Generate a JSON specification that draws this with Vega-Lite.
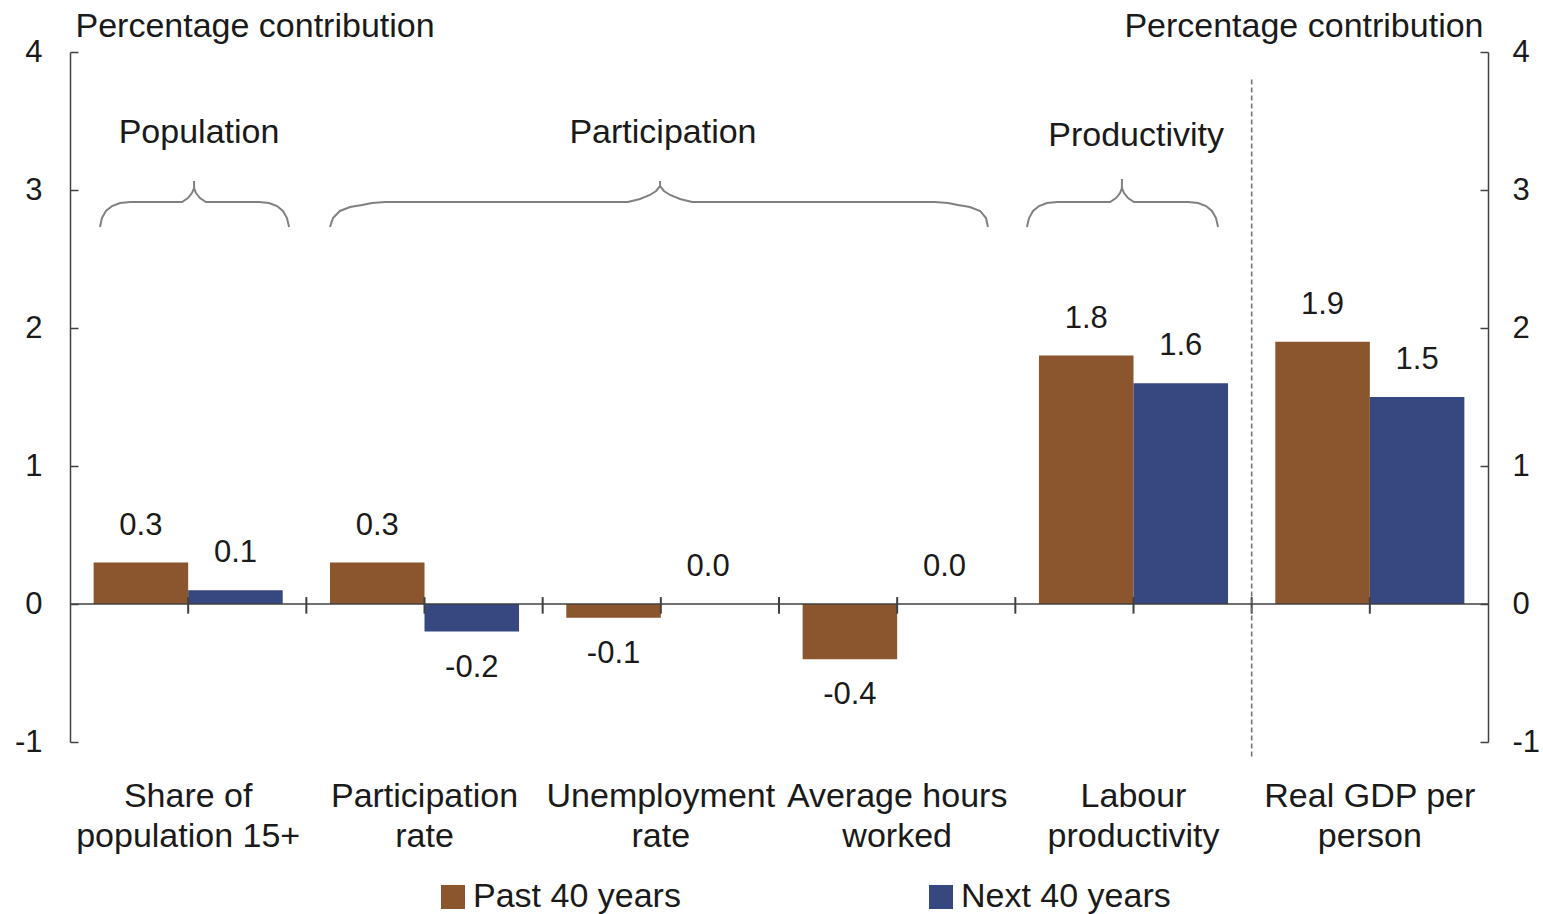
{
  "$schema": "https://vega.github.io/schema/vega-lite/v6.json",
  "width": 1418,
  "height": 690,
  "autosize": "none",
  "padding": {"left": 70, "top": 52, "right": 55, "bottom": 172},
  "background": "white",
  "config": {
    "font": "Liberation Sans",
    "view": {"stroke": null},
    "text": {"font": "Liberation Sans", "color": "#1a1a1a"}
  },
  "datasets": {
    "bars": [
      {"category": "Share of population 15+", "period": "Past 40 years", "value": 0.3},
      {"category": "Share of population 15+", "period": "Next 40 years", "value": 0.1},
      {"category": "Participation rate", "period": "Past 40 years", "value": 0.3},
      {"category": "Participation rate", "period": "Next 40 years", "value": -0.2},
      {"category": "Unemployment rate", "period": "Past 40 years", "value": -0.1},
      {"category": "Unemployment rate", "period": "Next 40 years", "value": 0.0},
      {"category": "Average hours worked", "period": "Past 40 years", "value": -0.4},
      {"category": "Average hours worked", "period": "Next 40 years", "value": 0.0},
      {"category": "Labour productivity", "period": "Past 40 years", "value": 1.8},
      {"category": "Labour productivity", "period": "Next 40 years", "value": 1.6},
      {"category": "Real GDP per person", "period": "Past 40 years", "value": 1.9},
      {"category": "Real GDP per person", "period": "Next 40 years", "value": 1.5}
    ],
    "ticks": [
      {"pos": 0.5}, {"pos": 1}, {"pos": 1.5}, {"pos": 2}, {"pos": 2.5}, {"pos": 3},
      {"pos": 3.5}, {"pos": 4}, {"pos": 4.5}, {"pos": 5}, {"pos": 5.5}
    ],
    "braces": [
      {"brace": "Population", "ord": 1, "bx": 0.127, "by": 2.732},
      {"brace": "Population", "ord": 2, "bx": 0.135, "by": 2.797},
      {"brace": "Population", "ord": 3, "bx": 0.152, "by": 2.848},
      {"brace": "Population", "ord": 4, "bx": 0.178, "by": 2.884},
      {"brace": "Population", "ord": 5, "bx": 0.212, "by": 2.906},
      {"brace": "Population", "ord": 6, "bx": 0.254, "by": 2.913},
      {"brace": "Population", "ord": 7, "bx": 0.474, "by": 2.913},
      {"brace": "Population", "ord": 8, "bx": 0.499, "by": 2.942},
      {"brace": "Population", "ord": 9, "bx": 0.516, "by": 2.978},
      {"brace": "Population", "ord": 10, "bx": 0.525, "by": 3.014},
      {"brace": "Population", "ord": 11, "bx": 0.525, "by": 3.065},
      {"brace": "Population", "ord": 12, "bx": 0.525, "by": 3.014},
      {"brace": "Population", "ord": 13, "bx": 0.533, "by": 2.978},
      {"brace": "Population", "ord": 14, "bx": 0.550, "by": 2.942},
      {"brace": "Population", "ord": 15, "bx": 0.575, "by": 2.913},
      {"brace": "Population", "ord": 16, "bx": 0.800, "by": 2.913},
      {"brace": "Population", "ord": 17, "bx": 0.842, "by": 2.906},
      {"brace": "Population", "ord": 18, "bx": 0.876, "by": 2.884},
      {"brace": "Population", "ord": 19, "bx": 0.901, "by": 2.848},
      {"brace": "Population", "ord": 20, "bx": 0.918, "by": 2.797},
      {"brace": "Population", "ord": 21, "bx": 0.927, "by": 2.732},
      {"brace": "Participation", "ord": 1, "bx": 1.100, "by": 2.732},
      {"brace": "Participation", "ord": 2, "bx": 1.113, "by": 2.797},
      {"brace": "Participation", "ord": 3, "bx": 1.142, "by": 2.848},
      {"brace": "Participation", "ord": 4, "bx": 1.185, "by": 2.877},
      {"brace": "Participation", "ord": 5, "bx": 1.236, "by": 2.891},
      {"brace": "Participation", "ord": 6, "bx": 1.278, "by": 2.906},
      {"brace": "Participation", "ord": 7, "bx": 1.333, "by": 2.913},
      {"brace": "Participation", "ord": 8, "bx": 2.361, "by": 2.913},
      {"brace": "Participation", "ord": 9, "bx": 2.412, "by": 2.935},
      {"brace": "Participation", "ord": 10, "bx": 2.454, "by": 2.964},
      {"brace": "Participation", "ord": 11, "bx": 2.480, "by": 2.993},
      {"brace": "Participation", "ord": 12, "bx": 2.497, "by": 3.029},
      {"brace": "Participation", "ord": 13, "bx": 2.497, "by": 3.065},
      {"brace": "Participation", "ord": 14, "bx": 2.497, "by": 3.029},
      {"brace": "Participation", "ord": 15, "bx": 2.513, "by": 2.993},
      {"brace": "Participation", "ord": 16, "bx": 2.539, "by": 2.964},
      {"brace": "Participation", "ord": 17, "bx": 2.581, "by": 2.935},
      {"brace": "Participation", "ord": 18, "bx": 2.632, "by": 2.913},
      {"brace": "Participation", "ord": 19, "bx": 3.660, "by": 2.913},
      {"brace": "Participation", "ord": 20, "bx": 3.715, "by": 2.906},
      {"brace": "Participation", "ord": 21, "bx": 3.757, "by": 2.891},
      {"brace": "Participation", "ord": 22, "bx": 3.808, "by": 2.877},
      {"brace": "Participation", "ord": 23, "bx": 3.851, "by": 2.848},
      {"brace": "Participation", "ord": 24, "bx": 3.876, "by": 2.797},
      {"brace": "Participation", "ord": 25, "bx": 3.884, "by": 2.732},
      {"brace": "Productivity", "ord": 1, "bx": 4.049, "by": 2.732},
      {"brace": "Productivity", "ord": 2, "bx": 4.058, "by": 2.797},
      {"brace": "Productivity", "ord": 3, "bx": 4.075, "by": 2.848},
      {"brace": "Productivity", "ord": 4, "bx": 4.100, "by": 2.884},
      {"brace": "Productivity", "ord": 5, "bx": 4.134, "by": 2.906},
      {"brace": "Productivity", "ord": 6, "bx": 4.176, "by": 2.913},
      {"brace": "Productivity", "ord": 7, "bx": 4.401, "by": 2.913},
      {"brace": "Productivity", "ord": 8, "bx": 4.426, "by": 2.942},
      {"brace": "Productivity", "ord": 9, "bx": 4.443, "by": 2.978},
      {"brace": "Productivity", "ord": 10, "bx": 4.451, "by": 3.014},
      {"brace": "Productivity", "ord": 11, "bx": 4.451, "by": 3.080},
      {"brace": "Productivity", "ord": 12, "bx": 4.451, "by": 3.014},
      {"brace": "Productivity", "ord": 13, "bx": 4.460, "by": 2.978},
      {"brace": "Productivity", "ord": 14, "bx": 4.477, "by": 2.942},
      {"brace": "Productivity", "ord": 15, "bx": 4.502, "by": 2.913},
      {"brace": "Productivity", "ord": 16, "bx": 4.731, "by": 2.913},
      {"brace": "Productivity", "ord": 17, "bx": 4.773, "by": 2.906},
      {"brace": "Productivity", "ord": 18, "bx": 4.807, "by": 2.884},
      {"brace": "Productivity", "ord": 19, "bx": 4.832, "by": 2.848},
      {"brace": "Productivity", "ord": 20, "bx": 4.849, "by": 2.797},
      {"brace": "Productivity", "ord": 21, "bx": 4.858, "by": 2.732}
    ],
    "braceLabels": [
      {"label": "Population", "lx": 0.546, "ly": 3.413},
      {"label": "Participation", "lx": 2.509, "ly": 3.413},
      {"label": "Productivity", "lx": 4.511, "ly": 3.391}
    ],
    "divider": [
      {"dx": 5, "top": 3.8, "bottom": -1.11}
    ]
  },
  "layer": [
    {
      "data": {"name": "bars"},
      "transform": [
        {"calculate": "replace(format(datum.value, '.1f'), '\u2212', '-')", "as": "label"}
      ],
      "encoding": {
        "x": {
          "field": "category",
          "type": "nominal",
          "sort": ["Share of population 15+", "Participation rate", "Unemployment rate", "Average hours worked", "Labour productivity", "Real GDP per person"],
          "scale": {"paddingInner": 0, "paddingOuter": 0},
          "axis": {
            "title": null,
            "domain": false,
            "ticks": false,
            "tickSize": 0,
            "labelAngle": 0,
            "labelFontSize": 34,
            "labelColor": "#1a1a1a",
            "labelBaseline": "alphabetic",
            "labelPadding": 64,
            "labelLineHeight": 40,
            "labelLimit": 400,
            "labelExpr": "datum.label == 'Share of population 15+' ? ['Share of', 'population 15+'] : datum.label == 'Participation rate' ? ['Participation', 'rate'] : datum.label == 'Unemployment rate' ? ['Unemployment', 'rate'] : datum.label == 'Average hours worked' ? ['Average hours', 'worked'] : datum.label == 'Labour productivity' ? ['Labour', 'productivity'] : ['Real GDP per', 'person']"
          }
        },
        "xOffset": {
          "field": "period",
          "type": "nominal",
          "sort": ["Past 40 years", "Next 40 years"],
          "scale": {"paddingInner": 0, "paddingOuter": 0.25}
        },
        "y": {
          "field": "value",
          "type": "quantitative",
          "title": "Percentage contribution",
          "scale": {"domain": [-1, 4], "nice": false, "zero": false},
          "axis": {
            "orient": "left",
            "values": [-1, 0, 1, 2, 3, 4],
            "labelExpr": "'' + datum.value",
            "grid": false,
            "domainColor": "#404040",
            "domainWidth": 1.5,
            "tickColor": "#404040",
            "tickWidth": 1.5,
            "tickSize": -8,
            "labelPadding": 36,
            "labelFontSize": 31,
            "labelColor": "#1a1a1a",
            "titleAngle": 0,
            "titleAlign": "left",
            "titleBaseline": "alphabetic",
            "titleX": 5,
            "titleY": -16,
            "titleFontSize": 34,
            "titleFontWeight": "normal",
            "titleColor": "#1a1a1a"
          }
        }
      },
      "layer": [
        {
          "mark": {"type": "bar"},
          "encoding": {
            "color": {
              "field": "period",
              "type": "nominal",
              "sort": ["Past 40 years", "Next 40 years"],
              "scale": {"domain": ["Past 40 years", "Next 40 years"], "range": ["#8B552D", "#374780"]},
              "legend": {
                "orient": "none",
                "legendX": 366,
                "legendY": 828,
                "direction": "horizontal",
                "title": null,
                "symbolType": "square",
                "symbolSize": 576,
                "symbolStrokeWidth": 0,
                "labelFontSize": 34,
                "labelColor": "#1a1a1a",
                "labelOffset": 3,
                "columnPadding": 243,
                "padding": 0,
                "labelLimit": 400
              }
            }
          }
        },
        {
          "transform": [{"filter": "datum.value >= 0"}],
          "mark": {"type": "text", "dy": -37, "baseline": "middle", "align": "center", "fontSize": 31},
          "encoding": {"text": {"field": "label", "type": "nominal"}}
        },
        {
          "transform": [{"filter": "datum.value < 0"}],
          "mark": {"type": "text", "dy": 36, "baseline": "middle", "align": "center", "fontSize": 31},
          "encoding": {"text": {"field": "label", "type": "nominal"}}
        }
      ]
    },
    {
      "layer": [
        {
          "data": {"name": "braces"},
          "mark": {"type": "line", "stroke": "#808080", "strokeWidth": 2, "interpolate": "linear"},
          "encoding": {
            "x": {"field": "bx", "type": "quantitative", "scale": {"domain": [0, 6], "nice": false, "zero": false}, "axis": null},
            "y": {
              "field": "by",
              "type": "quantitative",
              "title": "Percentage contribution",
              "scale": {"domain": [-1, 4], "nice": false, "zero": false},
              "axis": {
                "orient": "right",
                "values": [-1, 0, 1, 2, 3, 4],
                "labelExpr": "'' + datum.value",
                "grid": false,
                "domainColor": "#404040",
                "domainWidth": 1.5,
                "tickColor": "#404040",
                "tickWidth": 1.5,
                "tickSize": -8,
                "labelPadding": 32,
                "labelFontSize": 31,
                "labelColor": "#1a1a1a",
                "titleAngle": 0,
                "titleAlign": "right",
                "titleBaseline": "alphabetic",
                "titleX": -5,
                "titleY": -16,
                "titleFontSize": 34,
                "titleFontWeight": "normal",
                "titleColor": "#1a1a1a"
              }
            },
            "detail": {"field": "brace", "type": "nominal"},
            "order": {"field": "ord", "type": "quantitative"}
          }
        },
        {
          "data": {"name": "braceLabels"},
          "mark": {"type": "text", "fontSize": 34, "baseline": "middle", "align": "center"},
          "encoding": {
            "x": {"field": "lx", "type": "quantitative", "axis": null},
            "y": {"field": "ly", "type": "quantitative", "title": "Percentage contribution"},
            "text": {"field": "label", "type": "nominal"}
          }
        },
        {
          "data": {"name": "ticks"},
          "mark": {"type": "rule", "stroke": "#404040", "strokeWidth": 2},
          "encoding": {
            "x": {"field": "pos", "type": "quantitative", "axis": null},
            "y": {"datum": -0.07},
            "y2": {"datum": 0.05}
          }
        },
        {
          "data": {"name": "divider"},
          "mark": {"type": "rule", "stroke": "#707070", "strokeWidth": 1.5, "strokeDash": [5, 3]},
          "encoding": {
            "x": {"field": "dx", "type": "quantitative", "axis": null},
            "y": {"field": "top", "type": "quantitative", "title": "Percentage contribution"},
            "y2": {"field": "bottom"}
          }
        },
        {
          "data": {"values": [{"zero": 0}]},
          "mark": {"type": "rule", "stroke": "#404040", "strokeWidth": 1.5},
          "encoding": {
            "y": {"field": "zero", "type": "quantitative", "title": "Percentage contribution"}
          }
        }
      ]
    }
  ],
  "resolve": {"scale": {"x": "independent"}, "axis": {"y": "independent"}}
}
